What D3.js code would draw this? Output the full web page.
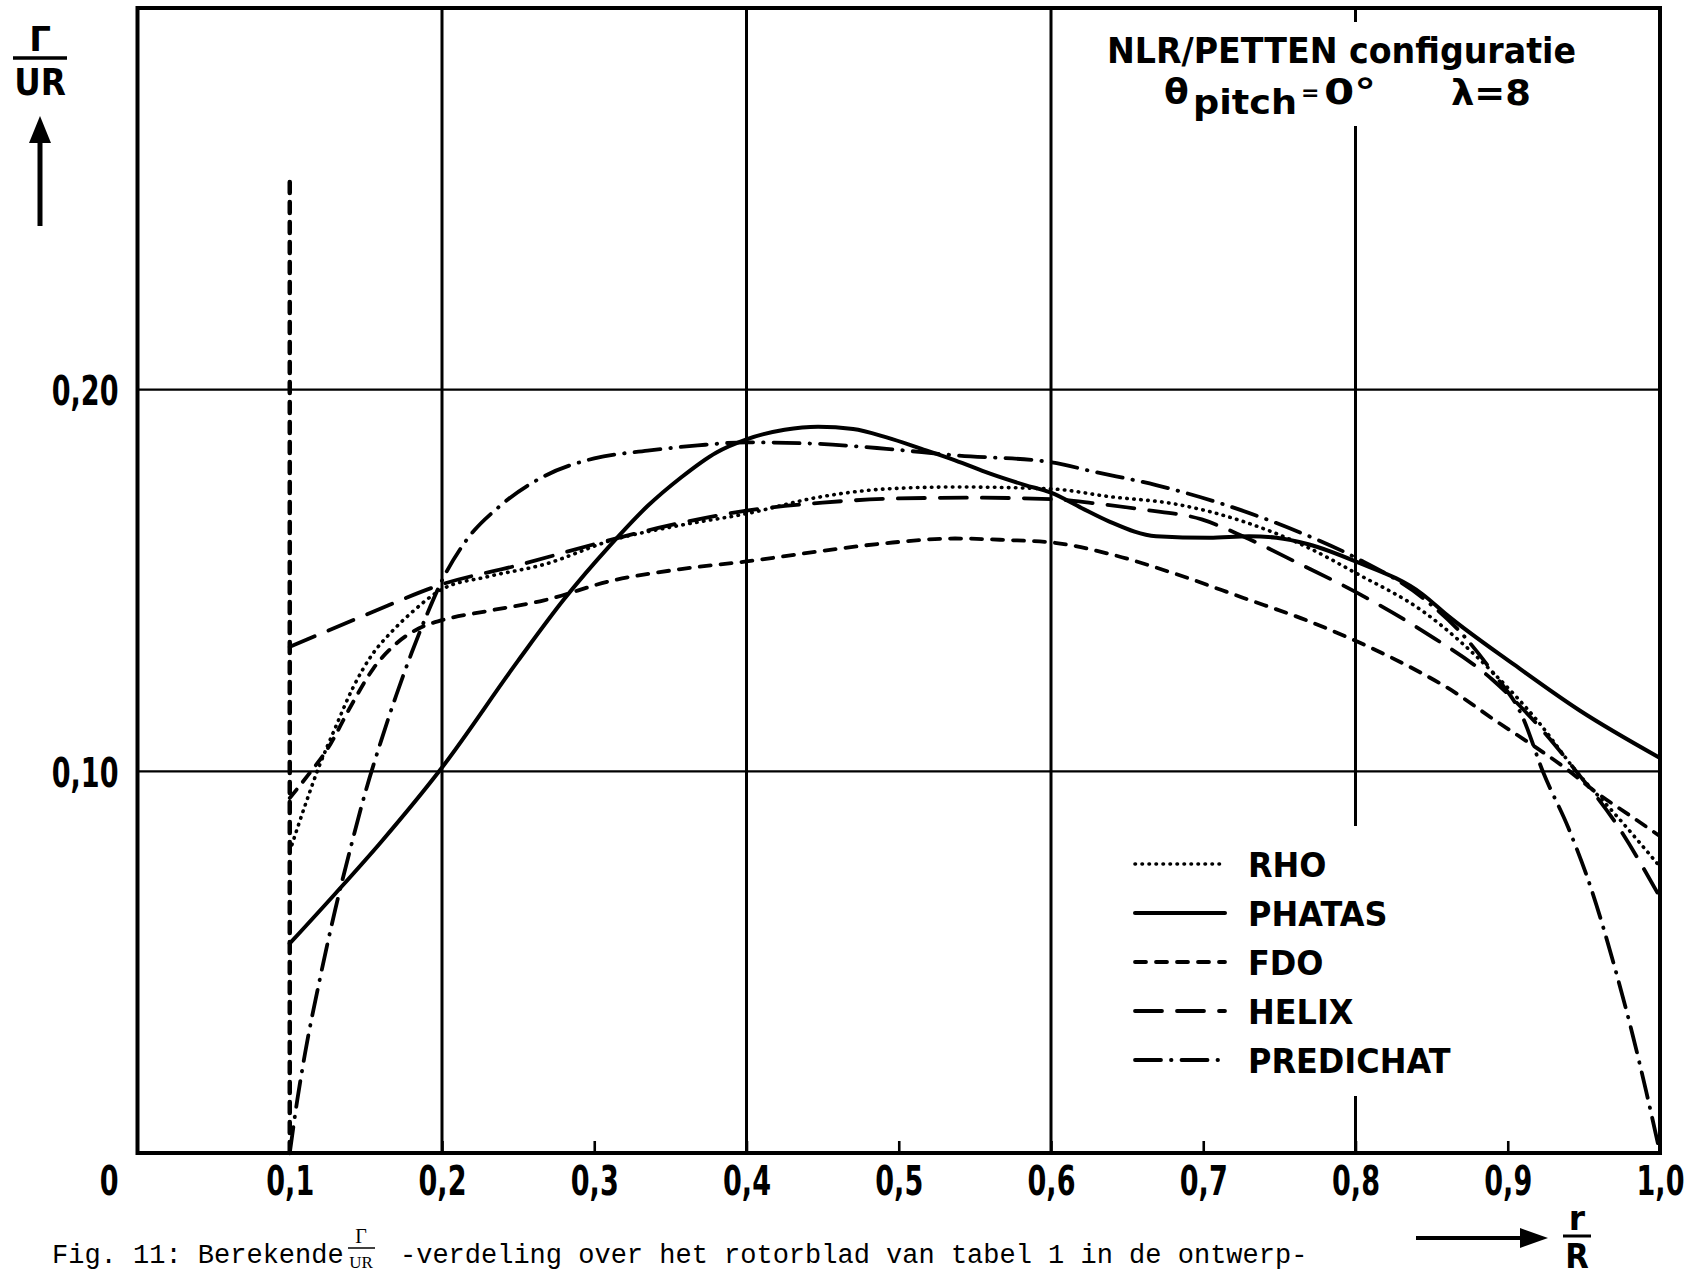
<!DOCTYPE html>
<html>
<head>
<meta charset="utf-8">
<script src="https://cdn.jsdelivr.net/npm/d3@7"></script>
<style>
  body { margin: 0; background: #fff; }
  svg { display: block; }
</style>
</head>
<body>
<svg id="chart" width="1685" height="1277"></svg>
<script>
// values: r/R on x, Gamma/UR on y
var rhoX = [0.100, 0.110, 0.119, 0.130, 0.141, 0.154, 0.167, 0.180, 0.200, 0.230, 0.267, 0.312, 0.357, 0.400, 0.447, 0.492, 0.537, 0.600, 0.638, 0.682, 0.726, 0.769, 0.800, 0.844, 0.890, 0.920, 0.945, 0.970, 1.000]
var rhoY = [0.079, 0.091, 0.101, 0.1115, 0.1215, 0.1305, 0.1366, 0.1416, 0.1477, 0.151, 0.1542, 0.1606, 0.1645, 0.1675, 0.1718, 0.1740, 0.1745, 0.1740, 0.1720, 0.1700, 0.1655, 0.1586, 0.1520, 0.1420, 0.1260, 0.1130, 0.1000, 0.0890, 0.0750]

var phatasX = [0.100, 0.130, 0.160, 0.200, 0.250, 0.280, 0.310, 0.335, 0.357, 0.380, 0.400, 0.425, 0.447, 0.470, 0.492, 0.515, 0.537, 0.560, 0.583, 0.600, 0.620, 0.638, 0.669, 0.704, 0.730, 0.748, 0.769, 0.800, 0.844, 0.860, 0.904, 0.947, 1.000]
var phatasY = [0.0549, 0.068, 0.0815, 0.101, 0.129, 0.145, 0.159, 0.1695, 0.177, 0.1835, 0.187, 0.1895, 0.1903, 0.1897, 0.1875, 0.1845, 0.1815, 0.178, 0.175, 0.173, 0.169, 0.1655, 0.1616, 0.1612, 0.1616, 0.1612, 0.1595, 0.155, 0.1464, 0.141, 0.128, 0.116, 0.1035]

var fdoX = [0.100, 0.112, 0.125, 0.140, 0.155, 0.170, 0.185, 0.200, 0.230, 0.267, 0.312, 0.357, 0.400, 0.447, 0.492, 0.537, 0.571, 0.600, 0.638, 0.682, 0.726, 0.769, 0.800, 0.844, 0.860, 0.893, 0.912, 0.939, 0.958, 0.980, 1.000]
var fdoY = [0.093, 0.099, 0.106, 0.117, 0.127, 0.1335, 0.1375, 0.1396, 0.142, 0.1448, 0.150, 0.153, 0.155, 0.1576, 0.1598, 0.161, 0.1606, 0.160, 0.157, 0.1517, 0.1455, 0.1394, 0.1342, 0.1256, 0.122, 0.113, 0.108, 0.1005, 0.0945, 0.0885, 0.083]
// FDO also has the vertical root line at r/R = 0,1
var fdoRootX = [0.100, 0.100]
var fdoRootY = [0.000, 0.2565]

var helixX = [0.100, 0.150, 0.200, 0.250, 0.300, 0.350, 0.400, 0.450, 0.500, 0.550, 0.600, 0.627, 0.660, 0.699, 0.726, 0.760, 0.800, 0.844, 0.890, 0.920, 0.945, 0.970, 1.000]
var helixY = [0.1326, 0.141, 0.149, 0.154, 0.1595, 0.1645, 0.1683, 0.1704, 0.1715, 0.1717, 0.1713, 0.1703, 0.1686, 0.1660, 0.1616, 0.1550, 0.1470, 0.1368, 0.1240, 0.1120, 0.1000, 0.0870, 0.0670]

var predichatX = [0.100, 0.105, 0.110, 0.120, 0.130, 0.140, 0.150, 0.160, 0.170, 0.180, 0.190, 0.200, 0.215, 0.238, 0.267, 0.300, 0.335, 0.368, 0.400, 0.447, 0.492, 0.537, 0.600, 0.627, 0.669, 0.713, 0.756, 0.800, 0.844, 0.870, 0.890, 0.910, 0.923, 0.940, 0.955, 0.970, 0.982, 0.991, 1.000]
var predichatY = [0.000, 0.014, 0.026, 0.046, 0.064, 0.080, 0.095, 0.108, 0.120, 0.131, 0.141, 0.150, 0.160, 0.1695, 0.1773, 0.182, 0.184, 0.1854, 0.1862, 0.1858, 0.1845, 0.1828, 0.181, 0.1786, 0.175, 0.170, 0.1638, 0.156, 0.1455, 0.136, 0.126, 0.114, 0.100, 0.085, 0.069, 0.049, 0.031, 0.016, 0.000]

var seriesNames = ["RHO", "PHATAS", "FDO", "HELIX", "PREDICHAT"]
var xTicks = [0.1, 0.2, 0.3, 0.4, 0.5, 0.6, 0.7, 0.8, 0.9, 1.0]
var xGrid = [0.2, 0.4, 0.6, 0.8]
var yTicks = [0.1, 0.2]

var series = [
    { name: "RHO", x: rhoX, y: rhoY },
    { name: "PHATAS", x: phatasX, y: phatasY },
    { name: "FDO", x: fdoX, y: fdoY },
    { name: "HELIX", x: helixX, y: helixY },
    { name: "PREDICHAT", x: predichatX, y: predichatY }
]

// pen styles per method
var penStyle = {
    "RHO":       { dash: "0.5,6.5", width: 3.6 },
    "PHATAS":    { dash: null, width: 4 },
    "FDO":       { dash: "11,10", width: 3.8 },
    "HELIX":     { dash: "27,15", width: 3.8 },
    "PREDICHAT": { dash: "26,10,0.5,10", width: 3.8 }
}

var boldFont = "'DejaVu Sans', 'Liberation Sans', sans-serif"
var monoFont = "'Liberation Mono', 'DejaVu Sans Mono', monospace"
var serifFont = "'Liberation Serif', 'DejaVu Serif', serif"

var svg = d3.select("#chart")

var xScale = d3.scaleLinear().domain([0, 1]).range([137.5, 1660])
var yScale = d3.scaleLinear().domain([0, 0.3]).range([1153, 8])

var commaFmt = (f) => (d => d3.format(f)(d).replace(".", ","))

function boldText(sel, size) {
    return sel.style("font-family", boldFont)
              .style("font-weight", "bold")
              .style("font-size", size + "px")
}

// grid
svg.append("g")
    .selectAll("line")
    .data(xGrid)
    .enter()
    .append("line")
    .attr("x1", d => xScale(d))
    .attr("x2", d => xScale(d))
    .attr("y1", yScale(0.3))
    .attr("y2", yScale(0))
    .attr("stroke", "#000")
    .attr("stroke-width", 3)

svg.append("g")
    .selectAll("line")
    .data(yTicks)
    .enter()
    .append("line")
    .attr("x1", xScale(0))
    .attr("x2", xScale(1))
    .attr("y1", d => yScale(d))
    .attr("y2", d => yScale(d))
    .attr("stroke", "#000")
    .attr("stroke-width", 2.2)

// blank paper behind the title block and the legend (grid line is broken there)
svg.append("rect").attr("x", 1090).attr("y", 22).attr("width", 510).attr("height", 104).attr("fill", "#fff")
svg.append("rect").attr("x", 1125).attr("y", 826).attr("width", 350).attr("height", 270).attr("fill", "#fff")

// x axis: small inside ticks + labels
var xAxisGen = d3.axisBottom(xScale)
    .tickValues(xTicks)
    .tickSize(-12)
    .tickPadding(13)
    .tickFormat(commaFmt(".1f"))

var xAxis = svg.append("g")
    .attr("transform", `translate(0, ${yScale(0)})`)
    .call(xAxisGen)
xAxis.select(".domain").remove()
xAxis.selectAll("line").attr("stroke-width", 2.6)
boldText(xAxis.selectAll("text"), 41).attr("transform", "scale(0.66,1)")

var yAxisGen = d3.axisLeft(yScale)
    .tickValues(yTicks)
    .tickSize(0)
    .tickFormat(commaFmt(".2f"))

var yAxis = svg.append("g")
    .attr("transform", `translate(${xScale(0)}, 0)`)
    .call(yAxisGen)
yAxis.select(".domain").remove()
boldText(yAxis.selectAll("text"), 41)
    .attr("x", 0)
    .attr("dy", "0.36em")
    .attr("transform", "translate(-19,0) scale(0.66,1)")

// origin label sits under the y labels
boldText(svg.append("text"), 41)
    .attr("transform", `translate(${xScale(0) - 19}, ${yScale(0) + 42}) scale(0.66,1)`)
    .attr("text-anchor", "end")
    .text("0")

// curves
var lineGen = d3.line()
    .x(d => xScale(d[0]))
    .y(d => yScale(d[1]))
    .curve(d3.curveMonotoneX)

var curves = svg.append("g").attr("fill", "none").attr("stroke", "#000").attr("stroke-linecap", "round")

series.forEach(s => {
    curves.append("path")
        .datum(d3.zip(s.x, s.y))
        .attr("d", lineGen)
        .attr("stroke-width", penStyle[s.name].width)
        .attr("stroke-dasharray", penStyle[s.name].dash)
})

curves.append("path")
    .datum(d3.zip(fdoRootX, fdoRootY))
    .attr("d", d3.line().x(d => xScale(d[0])).y(d => yScale(d[1])))
    .attr("stroke-width", 4.5)
    .attr("stroke-dasharray", "11,9")

// frame
svg.append("rect")
    .attr("x", xScale(0))
    .attr("y", yScale(0.3))
    .attr("width", xScale(1) - xScale(0))
    .attr("height", yScale(0) - yScale(0.3))
    .attr("fill", "none")
    .attr("stroke", "#000")
    .attr("stroke-width", 4)

// legend
var legend = svg.append("g")
legend.selectAll("line")
    .data(seriesNames)
    .enter()
    .append("line")
    .attr("x1", 1135)
    .attr("x2", 1225)
    .attr("y1", (d, i) => 864 + i * 49)
    .attr("y2", (d, i) => 864 + i * 49)
    .attr("stroke", "#000")
    .attr("stroke-linecap", "round")
    .attr("stroke-width", d => penStyle[d].width)
    .attr("stroke-dasharray", d => penStyle[d].dash)

boldText(legend.selectAll("text")
    .data(seriesNames)
    .enter()
    .append("text"), 34)
    .attr("transform", (d, i) => `translate(1248, ${877 + i * 49}) scale(0.94,1)`)
    .text(d => d)

// title block
boldText(svg.append("text"), 36)
    .attr("x", 1107)
    .attr("y", 63)
    .attr("textLength", 469)
    .attr("lengthAdjust", "spacingAndGlyphs")
    .text("NLR/PETTEN configuratie")

boldText(svg.append("text"), 36).attr("x", 1164).attr("y", 104).text("θ")
boldText(svg.append("text"), 33).attr("x", 1193).attr("y", 114)
    .attr("textLength", 104).attr("lengthAdjust", "spacingAndGlyphs").text("pitch")
boldText(svg.append("text"), 22).attr("x", 1301).attr("y", 100).text("=")
boldText(svg.append("text"), 36).attr("x", 1324).attr("y", 104)
    .attr("textLength", 52).attr("lengthAdjust", "spacingAndGlyphs").text("0°")
boldText(svg.append("text"), 36).attr("x", 1451).attr("y", 105)
    .attr("textLength", 80).attr("lengthAdjust", "spacingAndGlyphs").text("λ=8")

// y label: Gamma over UR with arrow
boldText(svg.append("text"), 34)
    .attr("x", 40).attr("y", 51)
    .attr("text-anchor", "middle")
    .text("Γ")
svg.append("line").attr("x1", 13).attr("x2", 67).attr("y1", 58).attr("y2", 58)
    .attr("stroke", "#000").attr("stroke-width", 3.5)
boldText(svg.append("text"), 38)
    .attr("transform", "translate(40, 95) scale(0.86,1)")
    .attr("text-anchor", "middle")
    .text("UR")
svg.append("line").attr("x1", 40).attr("x2", 40).attr("y1", 136).attr("y2", 226)
    .attr("stroke", "#000").attr("stroke-width", 5)
svg.append("path").attr("d", "M40,116 L29,143 L51,143 Z").attr("fill", "#000")

// x label: arrow to r over R
svg.append("line").attr("x1", 1416).attr("x2", 1525).attr("y1", 1238).attr("y2", 1238)
    .attr("stroke", "#000").attr("stroke-width", 4)
svg.append("path").attr("d", "M1548,1238 L1520,1228 L1520,1248 Z").attr("fill", "#000")
boldText(svg.append("text"), 33)
    .attr("x", 1577).attr("y", 1230)
    .attr("text-anchor", "middle")
    .text("r")
svg.append("line").attr("x1", 1563).attr("x2", 1591).attr("y1", 1236).attr("y2", 1236)
    .attr("stroke", "#000").attr("stroke-width", 3)
boldText(svg.append("text"), 34)
    .attr("transform", "translate(1577, 1268) scale(0.9,1)")
    .attr("text-anchor", "middle")
    .text("R")

// caption
var cap = svg.append("g").style("font-family", monoFont).style("font-size", "27px")
cap.append("text").attr("x", 52).attr("y", 1263).text("Fig. 11: Berekende")
cap.append("text").attr("x", 361).attr("y", 1243).attr("text-anchor", "middle")
    .style("font-family", serifFont).style("font-size", "20px").text("Γ")
cap.append("line").attr("x1", 348).attr("x2", 375).attr("y1", 1248).attr("y2", 1248)
    .attr("stroke", "#000").attr("stroke-width", 1.5)
cap.append("text").attr("x", 361).attr("y", 1268).attr("text-anchor", "middle")
    .style("font-family", serifFont).style("font-size", "17px").text("UR")
cap.append("text").attr("x", 400).attr("y", 1263)
    .text("-verdeling over het rotorblad van tabel 1 in de ontwerp-")
</script>
</body>
</html>
